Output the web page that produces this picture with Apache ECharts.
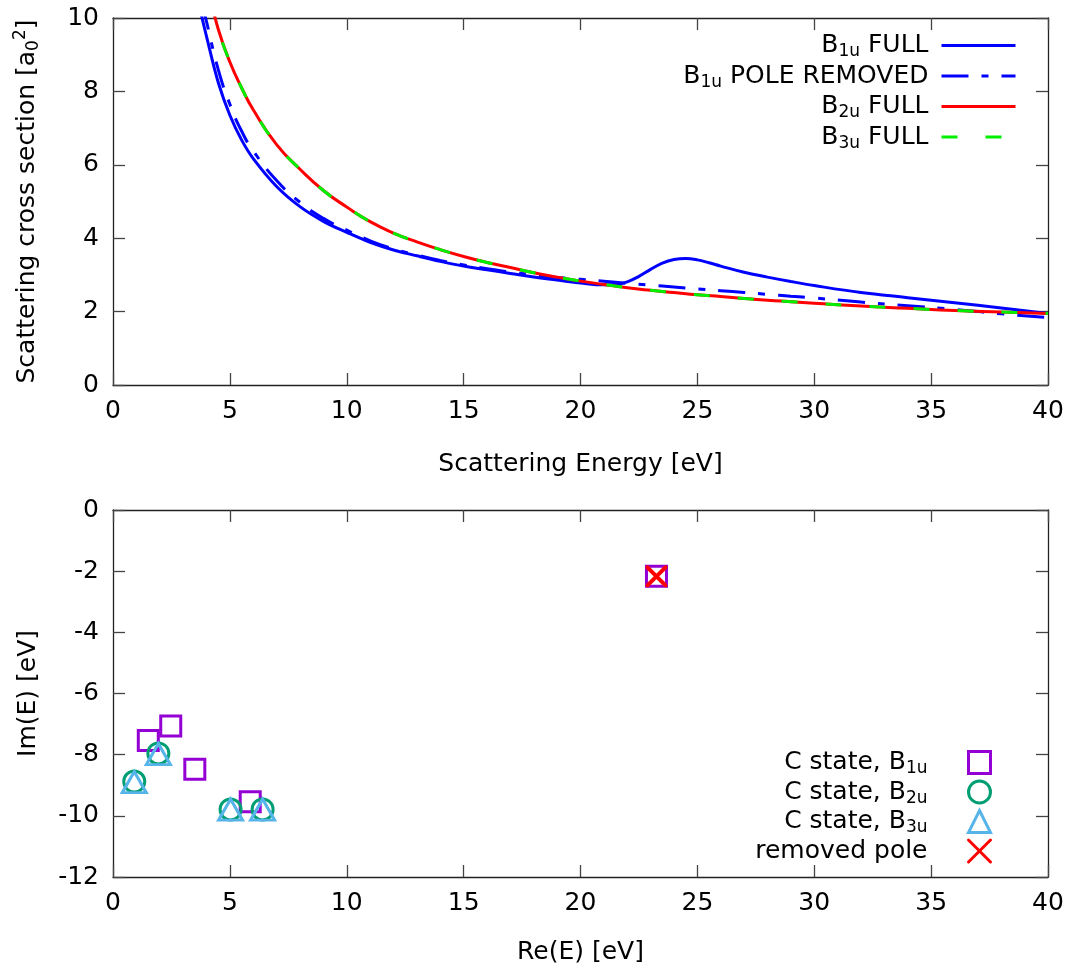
<!DOCTYPE html>
<html>
<head>
<meta charset="utf-8">
<script src="https://cdn.jsdelivr.net/npm/echarts@6/dist/echarts.min.js"></script>
<style>
html,body{margin:0;padding:0;background:#fff;}
#chart{width:1073px;height:967px;}
</style>
</head>
<body>
<div id="chart"></div>
<script>
// ---------- Top panel: cross sections ----------
const energyB1uFull = [3.7, 4.0, 4.5, 5, 5.5, 6, 7, 8, 9, 10, 11, 12, 13, 14, 15, 16, 17, 18, 19, 20, 21, 21.5, 22, 22.5, 23, 23.5, 24, 24.5, 25, 25.5, 26, 27, 28, 29, 30, 32, 34, 36, 38, 40];
const sigmaB1uFull  = [10.3, 9.5, 8.25, 7.35, 6.68, 6.17, 5.41, 4.86, 4.46, 4.16, 3.89, 3.68, 3.52, 3.37, 3.24, 3.14, 3.04, 2.94, 2.86, 2.78, 2.73, 2.74, 2.81, 2.96, 3.15, 3.32, 3.42, 3.45, 3.41, 3.33, 3.24, 3.07, 2.94, 2.82, 2.71, 2.52, 2.38, 2.24, 2.10, 1.95];

const energyB1uRemoved = [3.8, 4.0, 4.5, 5, 5.5, 6, 7, 8, 9, 10, 11, 12, 13, 14, 15, 16, 17, 18, 19, 20, 21, 22, 23, 24, 25, 26, 27, 28, 29, 30, 32, 34, 36, 38, 40];
const sigmaB1uRemoved  = [10.4, 9.9, 8.6, 7.65, 6.92, 6.38, 5.57, 4.98, 4.54, 4.22, 3.93, 3.71, 3.54, 3.39, 3.27, 3.17, 3.08, 3.0, 2.93, 2.88, 2.83, 2.77, 2.72, 2.67, 2.62, 2.57, 2.52, 2.47, 2.42, 2.37, 2.26, 2.16, 2.06, 1.94, 1.84];

const energyB2uFull = [4.2, 4.5, 5, 5.5, 6, 7, 8, 9, 10, 11, 12, 13, 14, 15, 16, 17, 18, 19, 20, 21, 22, 23, 24, 25, 26, 27, 28, 29, 30, 32, 34, 36, 38, 40];
const sigmaB2uFull  = [10.5, 9.7, 8.8, 8.1, 7.5, 6.55, 5.88, 5.3, 4.85, 4.45, 4.14, 3.9, 3.69, 3.5, 3.34, 3.2, 3.06, 2.94, 2.83, 2.74, 2.65, 2.58, 2.52, 2.46, 2.41, 2.36, 2.31, 2.27, 2.23, 2.15, 2.09, 2.03, 1.99, 1.95];

const energyB3uFull = [4.2, 4.5, 5, 5.5, 6, 7, 8, 9, 10, 11, 12, 13, 14, 15, 16, 17, 18, 19, 20, 21, 22, 23, 24, 25, 26, 27, 28, 29, 30, 32, 34, 36, 38, 40];
const sigmaB3uFull  = [10.5, 9.7, 8.8, 8.1, 7.5, 6.55, 5.88, 5.3, 4.85, 4.45, 4.14, 3.9, 3.69, 3.5, 3.34, 3.2, 3.06, 2.94, 2.83, 2.74, 2.65, 2.58, 2.52, 2.46, 2.41, 2.36, 2.31, 2.27, 2.23, 2.15, 2.09, 2.03, 1.99, 1.95];

const topXTicks = {min: 0, max: 40, interval: 5};
const topYTicks = {min: 0, max: 10, interval: 2};

// ---------- Bottom panel: resonance poles ----------
const reB1u = [1.51, 2.47, 3.50, 5.87, 23.25];
const imB1u = [-7.54, -7.06, -8.48, -9.54, -2.17];
const reB2u = [0.91, 1.94, 5.03, 6.40];
const imB2u = [-8.88, -7.96, -9.79, -9.79];
const reB3u = [0.91, 1.94, 5.03, 6.40];
const imB3u = [-8.90, -7.98, -9.80, -9.80];
const rePole = [23.25];
const imPole = [-2.17];

const botXTicks = {min: 0, max: 40, interval: 5};
const botYTicks = {min: -12, max: 0, interval: 2};

const zip = (xs, ys) => xs.map((x, i) => [x, ys[i]]);

const FONT = 'DejaVu Sans';
const FS = 25;
const SUB = 17;
const rich = {
  n: {fontFamily: FONT, fontSize: FS, color: '#000'},
  s: {fontFamily: FONT, fontSize: SUB, color: '#000', padding: [13, 0, 0, 0]},
  p: {fontFamily: FONT, fontSize: SUB, color: '#000', padding: [0, 0, 13, 0]},
  e: {fontFamily: FONT, fontSize: FS, color: '#000', padding: [0, 8, 0, 0]},
  g: {fontFamily: FONT, fontSize: FS, color: '#000', padding: [0, 36, 0, 0]}
};

const AX = '#222';
function xAx(grid, ticks, show, pos, name, gap) {
  return {
    type: 'value', gridIndex: grid, position: pos, min: ticks.min, max: ticks.max, interval: ticks.interval,
    axisLine: {show: true, onZero: false, lineStyle: {color: AX, width: 1.3}},
    axisTick: {show: true, inside: true, length: 12, lineStyle: {color: '#444', width: 1.3}},
    axisLabel: {show: show, margin: 14, fontFamily: FONT, fontSize: FS, color: '#000'},
    splitLine: {show: false},
    name: name || '', nameLocation: 'middle', nameGap: gap || 0,
    nameTextStyle: {fontFamily: FONT, fontSize: FS, color: '#000', rich: rich}
  };
}
function yAx(grid, ticks, show, pos, name, gap) {
  const a = xAx(grid, ticks, show, pos, name, gap);
  a.nameRotate = 90;
  return a;
}

const legendNames = {
  'B1u FULL': '{n|B}{s|1u}{e| FULL}',
  'B1u POLE REMOVED': '{n|B}{s|1u}{e| POLE REMOVED}',
  'B2u FULL': '{n|B}{s|2u}{e| FULL}',
  'B3u FULL': '{n|B}{s|3u}{e| FULL}',
  'C state, B1u': '{n|C state, B}{s|1u}{g|}',
  'C state, B2u': '{n|C state, B}{s|2u}{g|}',
  'C state, B3u': '{n|C state, B}{s|3u}{g|}',
  'removed pole': '{g|removed pole}'
};

const chart = echarts.init(document.getElementById('chart'), null, {renderer: 'canvas'});
chart.setOption({
  animation: false,
  backgroundColor: '#fff',
  grid: [
    {left: 113, top: 18, width: 935, height: 367},
    {left: 113, top: 510, width: 935, height: 367}
  ],
  xAxis: [
    xAx(0, topXTicks, true, 'bottom', 'Scattering Energy [eV]', 67),
    xAx(0, topXTicks, false, 'top'),
    xAx(1, botXTicks, true, 'bottom', 'Re(E) [eV]', 63),
    xAx(1, botXTicks, false, 'top')
  ],
  yAxis: [
    yAx(0, topYTicks, true, 'left', '{n|Scattering cross section [a}{s|0}{p|2}{n|]}', 71),
    yAx(0, topYTicks, false, 'right'),
    yAx(1, botYTicks, true, 'left', 'Im(E) [eV]', 72),
    yAx(1, botYTicks, false, 'right')
  ],
  legend: [
    {
      data: ['B1u FULL', 'B1u POLE REMOVED', 'B2u FULL', 'B3u FULL'],
      orient: 'vertical', align: 'right', right: 56, top: 33, padding: 0,
      itemWidth: 74, itemHeight: 14, itemGap: 3,
      formatter: n => legendNames[n],
      textStyle: {rich: rich},
      lineStyle: {width: 3},
      itemStyle: {color: 'rgba(0,0,0,0)', borderWidth: 0, opacity: 0},
      selectedMode: false
    },
    {
      data: ['C state, B1u', 'C state, B2u', 'C state, B3u', 'removed pole'],
      orient: 'vertical', align: 'right', right: 81, top: 750, padding: 0,
      itemWidth: 22, itemHeight: 22, itemGap: 2,
      formatter: n => legendNames[n],
      textStyle: {rich: rich},
      itemStyle: {borderWidth: 3, opacity: 1},
      selectedMode: false
    }
  ],
  series: [
    {name: 'B1u FULL', type: 'line', xAxisIndex: 0, yAxisIndex: 0, data: zip(energyB1uFull, sigmaB1uFull),
     smooth: 0.4, symbol: 'none', lineStyle: {color: '#0000ff', width: 3}, itemStyle: {color: '#0000ff'}},
    {name: 'B1u POLE REMOVED', type: 'line', xAxisIndex: 0, yAxisIndex: 0, data: zip(energyB1uRemoved, sigmaB1uRemoved),
     smooth: 0.5, symbol: 'none', lineStyle: {color: '#0000ff', width: 3, type: [27, 13, 7, 13]}, itemStyle: {color: '#0000ff'}},
    {name: 'B2u FULL', type: 'line', xAxisIndex: 0, yAxisIndex: 0, data: zip(energyB2uFull, sigmaB2uFull),
     smooth: 0.5, symbol: 'none', lineStyle: {color: '#ff0000', width: 3}, itemStyle: {color: '#ff0000'}},
    {name: 'B3u FULL', type: 'line', xAxisIndex: 0, yAxisIndex: 0, data: zip(energyB3uFull, sigmaB3uFull),
     smooth: 0.5, symbol: 'none', lineStyle: {color: '#00ee00', width: 3, type: [16, 28]}, itemStyle: {color: '#00ee00'}},

    {name: 'C state, B1u', type: 'scatter', xAxisIndex: 2, yAxisIndex: 2, data: zip(reB1u, imB1u),
     symbol: 'rect', symbolSize: 20, itemStyle: {color: 'rgba(0,0,0,0)', borderColor: '#9400d3', borderWidth: 3, opacity: 1}},
    {name: 'C state, B2u', type: 'scatter', xAxisIndex: 2, yAxisIndex: 2, data: zip(reB2u, imB2u),
     symbol: 'circle', symbolSize: 21, itemStyle: {color: 'rgba(0,0,0,0)', borderColor: '#009e73', borderWidth: 3, opacity: 1}},
    {name: 'C state, B3u', type: 'scatter', xAxisIndex: 2, yAxisIndex: 2, data: zip(reB3u, imB3u),
     symbol: 'triangle', symbolSize: [24, 21], itemStyle: {color: 'rgba(0,0,0,0)', borderColor: '#56b4e9', borderWidth: 3, opacity: 1}},
    {name: 'removed pole', type: 'scatter', xAxisIndex: 2, yAxisIndex: 2, data: zip(rePole, imPole),
     symbol: 'path://M0,0L10,10M10,0L0,10', symbolSize: 18, itemStyle: {color: 'rgba(0,0,0,0)', borderColor: '#ff0000', borderWidth: 4, borderCap: 'round', opacity: 1}}
  ]
});
</script>
</body>
</html>
